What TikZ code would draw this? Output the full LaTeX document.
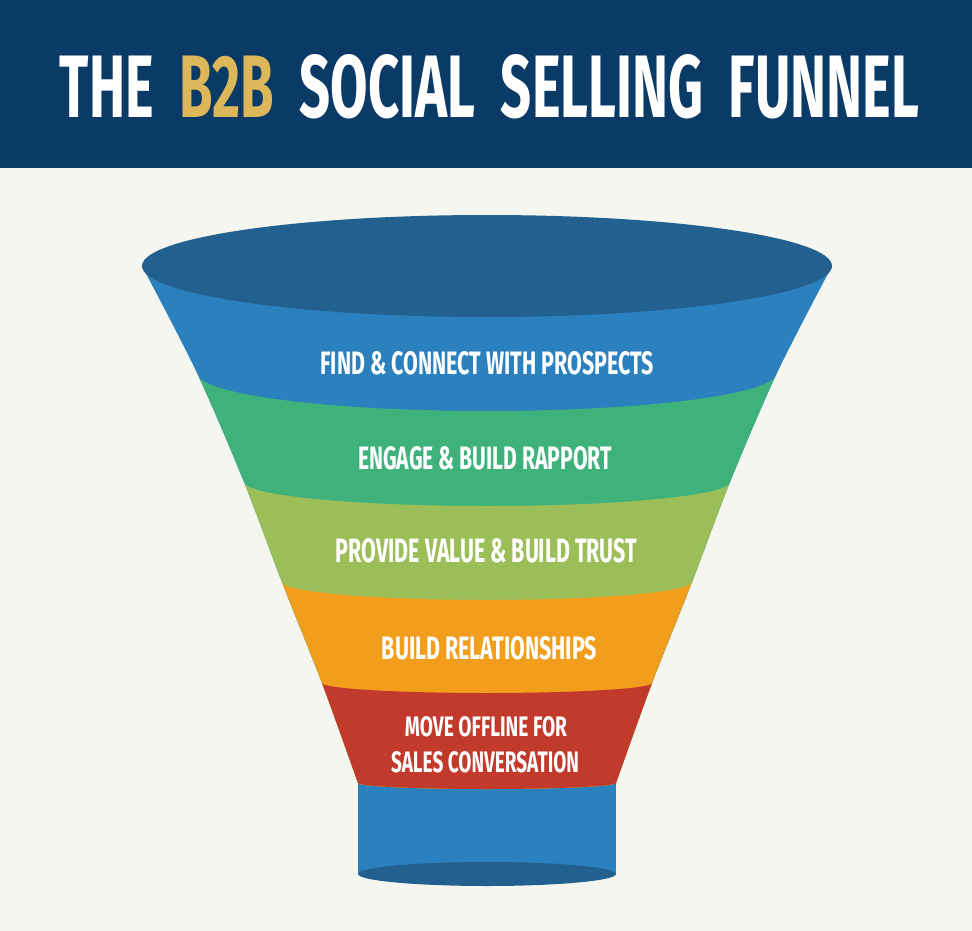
\documentclass[tikz,border=0pt]{standalone}
\usepackage{fontspec}
\setmainfont{Fira Sans}
\usepackage{graphicx}
\definecolor{hdr}{HTML}{0A3A66}
\definecolor{gold}{HTML}{DDB75A}
\definecolor{bgc}{HTML}{F6F6F1}
\definecolor{topb}{HTML}{22608F}
\definecolor{blueb}{HTML}{2B80BE}
\definecolor{greenb}{HTML}{3FB27B}
\definecolor{oliveb}{HTML}{9CBE58}
\definecolor{orangeb}{HTML}{F29D1B}
\definecolor{redb}{HTML}{C23A2C}
\newcommand{\fitlbl}[3]{\resizebox{#1pt}{#2pt}{\bfseries #3}}
\tikzset{lbl/.style={inner sep=0pt, text=white, anchor=center}}
\begin{document}
\begin{tikzpicture}[x=1pt,y=-1pt]
\useasboundingbox (0,0) rectangle (972,931);
\fill[bgc] (0,0) rectangle (972,931);
\fill[hdr] (0,0) rectangle (972,168);
\node[lbl] (title) at (489.5,86.5) {\resizebox{859pt}{63pt}{\bfseries\color{white}THE\ \ {\color{gold}B2B}\ \ SOCIAL\ \ SELLING\ \ FUNNEL}};
% spout
\fill[blueb] (358,778) rectangle (616,874);
\fill[topb] (487,874) ellipse [x radius=129, y radius=12];
% funnel body
\begin{scope}
\clip plot[smooth] coordinates {(142,266) (197,373) (244,482) (282,582) (322,683) (358,783)}
  arc[start angle=180, end angle=0, x radius=129, y radius=6]
  -- plot[smooth] coordinates {(616,783) (652,683) (692,582) (730,482) (777,373) (832,266)} -- cycle;
\fill[blueb] (100,250) rectangle (880,900);
\fill[greenb] (150,373) -- (197,373) arc[start angle=180, end angle=0, x radius=290, y radius=38] -- (830,373) -- (830,900) -- (150,900) -- cycle;
\fill[oliveb] (150,482) -- (244,482) arc[start angle=180, end angle=0, x radius=243, y radius=24] -- (830,482) -- (830,900) -- (150,900) -- cycle;
\fill[orangeb] (150,582) -- (282,582) arc[start angle=180, end angle=0, x radius=205, y radius=18] -- (830,582) -- (830,900) -- (150,900) -- cycle;
\fill[redb] (150,683) -- (322,683) arc[start angle=180, end angle=0, x radius=165, y radius=10] -- (830,683) -- (830,900) -- (150,900) -- cycle;
\end{scope}
\fill[topb] (487,266) ellipse [x radius=345, y radius=51];
% labels
\node[lbl] (s1) at (487,363.5) {\fitlbl{333}{23}{FIND \& CONNECT WITH PROSPECTS}};
\node[lbl] (s2) at (485,458.5) {\fitlbl{254}{23}{ENGAGE \& BUILD RAPPORT}};
\node[lbl] (s3) at (486.5,551) {\fitlbl{301}{24}{PROVIDE VALUE \& BUILD TRUST}};
\node[lbl] (s4) at (489.5,648.5) {\fitlbl{215}{23}{BUILD RELATIONSHIPS}};
\node[lbl] (s5a) at (486,727) {\fitlbl{162}{20}{MOVE OFFLINE FOR}};
\node[lbl] (s5b) at (485,762.5) {\fitlbl{188}{21}{SALES CONVERSATION}};
\end{tikzpicture}
\end{document}
